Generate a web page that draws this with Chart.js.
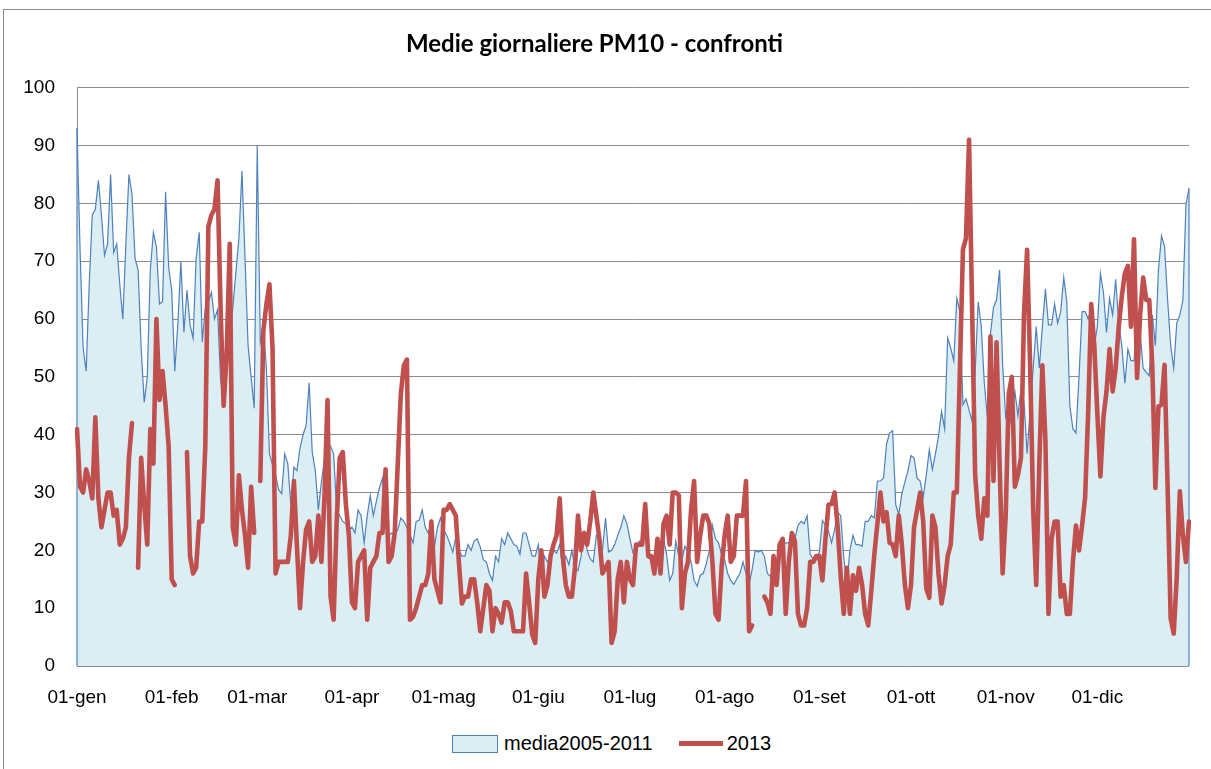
<!DOCTYPE html>
<html>
<head>
<meta charset="utf-8">
<script src="https://cdn.jsdelivr.net/npm/chart.js@4.4.1/dist/chart.umd.min.js"></script>
<style>
  body { margin: 0; background: #fff; font-family: "Liberation Sans", Arial, sans-serif; }
  #wrap { position: relative; width: 1211px; height: 769px; overflow: hidden; }
  #frame { position: absolute; left: 3px; top: 9px; width: 1300px; height: 900px; border: 1px solid #8c8c8c; }
  #chart { position: absolute; left: 0; top: 0; }
  #legend { position: absolute; left: 452px; top: 732px; display: flex; align-items: center; font-size: 20px; color: #000; }
  .box { width: 44px; height: 16px; background: #dbeef4; border: 1px solid #4f81bd; margin-right: 6px; }
  .line { width: 44px; height: 5px; background: #c0504d; margin: 0 4px 0 26px; }
</style>
</head>
<body>
<div id="wrap">
  <div id="frame"></div>
  <canvas id="chart" width="1211" height="720"></canvas>
  <div id="legend">
    <span class="box"></span><span>media2005-2011</span>
    <span class="line"></span><span>2013</span>
  </div>
</div>
<script>
// month names and lengths (2013)
const monthNames = ["gen", "feb", "mar", "apr", "mag", "giu", "lug", "ago", "set", "ott", "nov", "dic"];
const monthDays = [31, 28, 31, 30, 31, 30, 31, 31, 30, 31, 30, 31];

const yTicks = [0, 10, 20, 30, 40, 50, 60, 70, 80, 90, 100];

// media 2005-2011, one value per day
const media = [
  93, 72, 55, 51, 66, 78, 79, 84, 78, 71,
  73, 85, 71.5, 73, 66, 60, 73, 85, 81.6, 70.5,
  68.5, 55, 45.6, 50, 68.5, 75, 72.5, 62.6, 63, 82,
  69, 65, 51, 59, 70, 57.7, 65, 59, 56.7, 70.5,
  75, 56, 62, 63, 64.6, 60, 61.6, 49.5, 45.6, 51.5,
  57, 62, 68, 74, 85.6, 70.5, 55.4, 50, 44.6, 90,
  56, 58.7, 51.5, 36.7, 34.8, 33, 30.5, 29.8, 36.7, 35,
  27.9, 34.4, 33.8, 37.7, 40, 41.6, 49, 37, 33.8, 27,
  31.8, 35.7, 39, 38, 36.7, 27, 26, 25, 24.6, 23.6,
  24, 23, 27, 26, 21.3, 26, 29.5, 26, 28.5, 30.8,
  32.5, 24, 22.6, 23, 22.6, 23.6, 25.6, 25, 24, 22.6,
  21.3, 25, 25.2, 27, 24, 23, 25, 20.6, 24, 25.6,
  23.6, 22.6, 21.3, 19.7, 22.3, 20, 19, 19, 21, 20,
  21.6, 22, 20.6, 18.4, 18, 16, 14.8, 19, 18, 22,
  21, 23, 22, 21, 20.7, 19.3, 23, 23, 21, 19,
  19, 21, 15.5, 19, 18, 19, 20, 19.5, 21, 17,
  19, 17.5, 20, 17, 16.5, 19, 23, 20, 18.5, 18,
  22.6, 22, 20, 25.6, 19.7, 20, 21, 22.6, 24, 26,
  24.6, 22, 19.5, 19.3, 21.6, 21.3, 23.3, 18.7, 18.4, 18,
  20.7, 21.6, 22, 19.3, 14.8, 16, 21.6, 19, 18.4, 20.7,
  19.7, 18, 14.8, 13.8, 15.7, 16, 17.7, 20, 24.3, 22,
  21.3, 19.3, 18.4, 16, 14.8, 14.1, 15.1, 16, 18, 16,
  14.1, 16.7, 20, 19.7, 20, 19, 16, 15.5, 17, 18,
  21, 21, 21.3, 21.3, 22, 22, 24.3, 25, 24.6, 26,
  19.3, 18.4, 18.4, 19.7, 25.2, 24.3, 23.3, 21.3, 23.6, 26.6,
  26, 18.7, 14.1, 20, 22.6, 21, 21, 20.7, 25, 25,
  26, 25.6, 32, 32, 32.5, 38.4, 40.3, 40.7, 27.9, 26.2,
  29.8, 31.8, 33.8, 36.4, 36, 32.5, 32, 29.2, 33, 37.4,
  34, 36.7, 39.7, 44, 41, 56.7, 55, 52.8, 63.6, 61.3,
  45.2, 46.2, 44.3, 42.3, 50.8, 63, 58.7, 48.9, 43, 57.4,
  62, 63.3, 68.5, 52, 43, 41, 43.6, 47.5, 43.3, 47.9,
  45.6, 36.7, 44.3, 51.5, 58.7, 51.5, 58.7, 65.2, 59, 59,
  62.6, 59.3, 61.3, 67.2, 63, 45, 41, 40.3, 50, 61.3,
  61.3, 60, 62, 55.4, 58.7, 67.9, 64.6, 57.7, 63.6, 60.7,
  66.9, 59.3, 55.4, 48.9, 54.8, 52.8, 52.8, 60, 57.7, 51.5,
  50.8, 50.2, 60.7, 55.4, 68.5, 74.4, 72.5, 63.3, 55.4, 51.5,
  59.3, 60.7, 63.3, 79.7, 82.6
];

// 2013, one value per day (null = missing)
const anno2013 = [
  41, 31, 30, 34, 32, 29, 43, 29, 24, 27,
  30, 30, 26, 27, 21, 22, 24, 36, 42, null,
  17, 36, 28, 21, 41, 35, 60, 46, 51, 45,
  38, 15, 14, null, null, null, 37, 19, 16, 17,
  25, 25, 38, 76, 78, 79, 84, 62, 45, 54,
  73, 24, 21, 33, 27, 22.6, 17, 31, 23, null,
  32, 58, 62.6, 66, 55, 16, 18, 18, 18, 18,
  22.6, 32, 20.6, 10, 18, 23.6, 25, 18, 19, 26,
  18, 29, 46, 12, 8, 25, 36, 37, 28, 22.6,
  11, 10, 18, 19, 20, 8, 17, 18, 19, 23,
  23, 34, 18, 19, 23, 35, 47, 52, 53, 8,
  8.5, 10, 12, 14, 14, 16, 25, 15, 13, 11,
  27, 27, 28, 27, 26, 18, 10.8, 12, 12, 15,
  15, 11, 6, 10, 14, 13, 6, 10, 9, 7.5,
  11, 11, 9.5, 6, 6, 6, 6, 16, 11, 5.5,
  4, 15, 20, 12, 14, 19, 21, 22.6, 29, 19,
  14, 12, 12, 17, 26, 20, 23, 21, 25, 30,
  26, 22, 16, 17, 18, 4, 6, 15, 18, 11,
  18, 15, 14, 21, 21, 21, 28, 19, 19, 16,
  22, 16, 24.6, 26, 21, 30, 30, 29.5, 10, 16,
  18, 27, 32, 18, 22.6, 26, 26, 24.6, 18, 9,
  8, 17, 22.6, 26, 18, 19, 26, 26, 26, 32,
  6, 7, null, null, null, 12, 11, 9, 19, 14,
  21, 22, 9, 18, 23, 21.6, 9, 7, 7, 10,
  18, 18, 19, 19, 14.8, 22, 27.9, 28, 30, 24,
  15.4, 9, 17, 9, 15.7, 13, 17, 14, 9, 7,
  13, 19.3, 24.6, 30, 25, 26.6, 21.3, 21, 19, 26,
  21, 14, 10, 14, 24, 27, 30, 25, 13.4, 11.8,
  26, 24, 16, 10.8, 14, 19, 21, 30, 30, 51,
  72, 74, 91, 62, 33, 26, 22, 29, 26, 57,
  32, 56, 35, 16, 26, 47, 50, 31, 33, 36,
  61, 72, 52, 27, 14, 35, 52, 39, 9, 22,
  25, 25, 12, 14, 9, 9, 18, 24.3, 20, 24.3,
  29.2, 44, 62.6, 55.4, 43.6, 32.8, 43, 47.5, 54.8, 47.5,
  51.5, 58.7, 63.9, 67.9, 69.2, 58.7, 73.8, 49.8, 60.7, 67.2,
  63.3, 63.3, 51.5, 30.8, 44.9, 45.2, 52.1, 31, 8.2, 5.6,
  15.4, 30.2, 22.6, 18, 25
];

// day labels like "01-gen", "02-gen", ...
const dayLabels = [];
monthNames.forEach((m, mi) => {
  for (let d = 1; d <= monthDays[mi]; d++) {
    dayLabels.push(String(d).padStart(2, "0") + "-" + m);
  }
});

// Excel draws the area outline down to the axis at both ends
const areaEdges = {
  id: "areaEdges",
  afterDatasetDraw(chart, args) {
    if (args.index !== 0) return;
    const { ctx, scales } = chart;
    const y0 = scales.y.getPixelForValue(0);
    const last = media.length - 1;
    ctx.save();
    ctx.strokeStyle = "#4f81bd";
    ctx.lineWidth = 1.2;
    ctx.beginPath();
    ctx.moveTo(scales.x.getPixelForValue(0), scales.y.getPixelForValue(media[0]));
    ctx.lineTo(scales.x.getPixelForValue(0), y0);
    ctx.moveTo(scales.x.getPixelForValue(last), scales.y.getPixelForValue(media[last]));
    ctx.lineTo(scales.x.getPixelForValue(last), y0);
    ctx.stroke();
    ctx.restore();
  }
};

Chart.defaults.font.family = '"Liberation Sans", Arial, sans-serif';
Chart.defaults.color = "#000";

new Chart(document.getElementById("chart").getContext("2d"), {
  type: "line",
  data: {
    labels: dayLabels,
    datasets: [
      {
        label: "media2005-2011",
        data: media,
        fill: "origin",
        backgroundColor: "#dbeef4",
        borderColor: "#4f81bd",
        borderWidth: 1.2,
        pointRadius: 0,
        tension: 0,
        order: 2,
      },
      {
        label: "2013",
        data: anno2013,
        fill: false,
        borderColor: "#c0504d",
        borderWidth: 4.6,
        pointRadius: 0,
        tension: 0,
        spanGaps: false,
        borderJoinStyle: "round",
        borderCapStyle: "round",
        order: 1,
      },
    ],
  },
  options: {
    responsive: false,
    animation: false,
    layout: { padding: { left: 0, right: 22, top: 0, bottom: 0 } },
    plugins: {
      legend: { display: false },
      tooltip: { enabled: false },
      title: {
        display: true,
        text: "Medie giornaliere PM10 - confronti",
        font: { family: "Lato, 'Liberation Sans', sans-serif", size: 24, weight: "bold" },
        padding: { top: 30, bottom: 29 },
      },
    },
    scales: {
      x: {
        grid: { display: false, drawTicks: false },
        border: { display: false },
        ticks: {
          autoSkip: false,
          maxRotation: 0,
          minRotation: 0,
          padding: 20,
          font: { size: 19 },
          callback: (v, i) => (dayLabels[i].startsWith("01-") ? dayLabels[i] : ""),
        },
        afterFit: (s) => { s.height = 54; },
      },
      y: {
        min: 0,
        max: 100,
        afterBuildTicks: (s) => { s.ticks = yTicks.map((v) => ({ value: v })); },
        grid: { color: "#8c8c8c", lineWidth: 1, drawTicks: false },
        border: { display: true, color: "#8c8c8c" },
        ticks: { padding: 22, font: { size: 19 } },
        afterFit: (s) => { s.width = 77; },
      },
    },
  },
  plugins: [areaEdges],
});
</script>
</body>
</html>
